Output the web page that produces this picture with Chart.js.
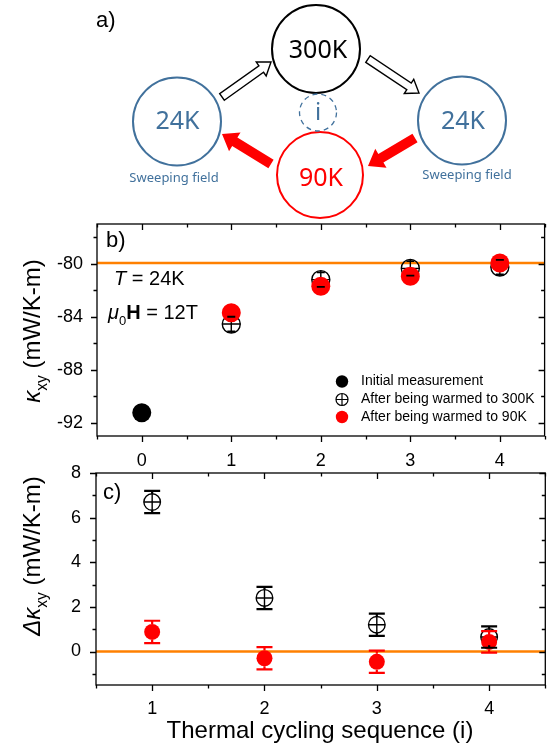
<!DOCTYPE html>
<html>
<head>
<meta charset="utf-8">
<script src="https://cdn.jsdelivr.net/npm/chart.js@4.4.1/dist/chart.umd.min.js"></script>
<style>
html, body { margin: 0; padding: 0; background: #fff; }
#wrap { position: relative; width: 555px; height: 748px; }
#wrap canvas { position: absolute; left: 0; top: 0; }
</style>
</head>
<body>
<div id="wrap">
  <canvas id="chart-b" width="555" height="748"></canvas>
  <canvas id="chart-c" width="555" height="748"></canvas>
</div>
<script>
// ---- data, panel b ----
var seriesNames = ['Initial measurement', 'After being warmed to 300K', 'After being warmed to 90K'];
var bXRange = [-0.5, 4.5];
var bYRange = [-93, -77];
var bXTicks = [0, 1, 2, 3, 4];
var bYTicks = [-92, -88, -84, -80];
var initialX = [0];
var initialVals = [-91.25];
var warm300X = [1, 2, 3, 4];
var warm300Vals = [-84.55, -81.2, -80.35, -80.25];
var warm300Err = [0.55, 0.55, 0.55, 0.55];
var warm90X = [1, 2, 3, 4];
var warm90Vals = [-83.7, -81.7, -80.95, -79.95];
var bRefLine = -79.95;

// ---- data, panel c ----
var cXRange = [0.5, 4.5];
var cYRange = [-1.5, 8];
var cXTicks = [1, 2, 3, 4];
var cYTicks = [0, 2, 4, 6, 8];
var cycleX = [1, 2, 3, 4];
var delta300Vals = [6.7, 2.4, 1.2, 0.65];
var delta300Err = [0.5, 0.5, 0.5, 0.48];
var delta90Vals = [0.88, -0.3, -0.46, 0.43];
var delta90Err = [0.5, 0.5, 0.5, 0.48];
var cRefLine = 0;

var ORANGE = '#FF8000';
var RED = '#FF0000';
var BLUE = '#41719C';
var FONT = "'Liberation Sans', Arial, sans-serif";
var DIAG_FONT = "'Noto Sans', sans-serif";

Chart.defaults.font.family = FONT;
Chart.defaults.color = '#000';

function pts(xs, ys) {
  return xs.map(function (x, i) { return { x: x, y: ys[i] }; });
}

function richWidth(ctx, parts, size) {
  var w = 0;
  parts.forEach(function (p) {
    var s = p.sub ? size * 0.65 : size;
    ctx.font = (p.italic ? 'italic ' : '') + (p.bold ? 'bold ' : '') + s + 'px ' + FONT;
    w += ctx.measureText(p.t).width;
  });
  return w;
}

function drawRich(ctx, parts, x, y, size) {
  var cx = x;
  ctx.textBaseline = 'alphabetic';
  ctx.textAlign = 'left';
  parts.forEach(function (p) {
    var s = p.sub ? size * 0.65 : size;
    ctx.font = (p.italic ? 'italic ' : '') + (p.bold ? 'bold ' : '') + s + 'px ' + FONT;
    ctx.fillText(p.t, cx, y + (p.sub ? size * 0.3 : 0));
    cx += ctx.measureText(p.t).width;
  });
}

function yTitle(ctx, parts, baseX, centerY, size) {
  var w = richWidth(ctx, parts, size);
  ctx.save();
  ctx.translate(baseX, centerY);
  ctx.rotate(-Math.PI / 2);
  ctx.fillStyle = '#000';
  drawRich(ctx, parts, -w / 2, 0, size);
  ctx.restore();
}

function fixTicks(list) {
  return function (scale) { scale.ticks = list.map(function (v) { return { value: v }; }); };
}

var frameTicks = {
  id: 'frameTicks',
  afterDraw: function (chart, args, opts) {
    var ctx = chart.ctx, a = chart.chartArea, x = chart.scales.x, y = chart.scales.y;
    var majX = x.ticks.map(function (t) { return t.value; });
    var majY = y.ticks.map(function (t) { return t.value; });
    var isMaj = function (arr, v) { return arr.some(function (m) { return Math.abs(m - v) < 1e-6; }); };
    ctx.save();
    ctx.strokeStyle = '#000';
    ctx.lineWidth = 1.3;
    ctx.strokeRect(a.left, a.top, a.right - a.left, a.bottom - a.top);
    ctx.beginPath();
    var v, p, len;
    for (v = Math.ceil(x.min / opts.xMinor - 1e-6) * opts.xMinor; v <= x.max + 1e-6; v += opts.xMinor) {
      p = x.getPixelForValue(v);
      len = isMaj(majX, v) ? 6 : 3.5;
      p = Math.round(p) + 0.5;
      ctx.moveTo(p, a.bottom); ctx.lineTo(p, a.bottom + len);
      ctx.moveTo(p, a.top); ctx.lineTo(p, a.top + len);
    }
    for (v = Math.ceil(y.min / opts.yMinor - 1e-6) * opts.yMinor; v <= y.max + 1e-6; v += opts.yMinor) {
      p = y.getPixelForValue(v);
      len = isMaj(majY, v) ? 6 : 3.5;
      p = Math.round(p) + 0.5;
      ctx.moveTo(a.left, p); ctx.lineTo(a.left - len, p);
      ctx.moveTo(a.right, p); ctx.lineTo(a.right - len, p);
    }
    ctx.stroke();
    ctx.restore();
  }
};

// cross inside the open circles (drawn with that dataset), then error bars on top
var errorBars = {
  id: 'errorBars',
  afterDatasetDraw: function (chart, args, opts) {
    var ctx = chart.ctx;
    (opts.bars || []).forEach(function (e) {
      if (e.dataset !== args.index || !e.cross) return;
      ctx.save();
      ctx.strokeStyle = '#000';
      ctx.lineWidth = 1.4;
      args.meta.data.forEach(function (pt) {
        ctx.beginPath();
        ctx.moveTo(pt.x - e.cross, pt.y); ctx.lineTo(pt.x + e.cross, pt.y);
        ctx.moveTo(pt.x, pt.y - e.cross); ctx.lineTo(pt.x, pt.y + e.cross);
        ctx.stroke();
      });
      ctx.restore();
    });
  },
  afterDatasetsDraw: function (chart, args, opts) {
    var ctx = chart.ctx, y = chart.scales.y;
    ctx.save();
    (opts.bars || []).forEach(function (e) {
      var meta = chart.getDatasetMeta(e.dataset);
      var ds = chart.data.datasets[e.dataset];
      ctx.strokeStyle = e.color;
      ctx.lineWidth = e.width;
      meta.data.forEach(function (pt, i) {
        var val = ds.data[i].y, d = e.errs[i];
        var yt = y.getPixelForValue(val + d), yb = y.getPixelForValue(val - d);
        ctx.beginPath();
        if (yt < pt.y - e.gap) { ctx.moveTo(pt.x, yt); ctx.lineTo(pt.x, pt.y - e.gap); }
        if (yb > pt.y + e.gap) { ctx.moveTo(pt.x, pt.y + e.gap); ctx.lineTo(pt.x, yb); }
        ctx.moveTo(pt.x - e.cap, yt); ctx.lineTo(pt.x + e.cap, yt);
        ctx.moveTo(pt.x - e.cap, yb); ctx.lineTo(pt.x + e.cap, yb);
        ctx.stroke();
      });
    });
    ctx.restore();
  }
};

function circle(ctx, x, y, r, color, lw, dash) {
  ctx.save();
  ctx.strokeStyle = color;
  ctx.lineWidth = lw;
  if (dash) ctx.setLineDash(dash);
  ctx.beginPath(); ctx.arc(x, y, r, 0, 2 * Math.PI); ctx.stroke();
  ctx.restore();
}

function centerText(ctx, t, x, y, size, color) {
  ctx.font = size + 'px ' + DIAG_FONT;
  ctx.fillStyle = color;
  ctx.textAlign = 'center';
  ctx.textBaseline = 'middle';
  ctx.fillText(t, x, y);
}

function blockArrow(ctx, x1, y1, x2, y2, sw, hw, hl, fill, stroke) {
  var dx = x2 - x1, dy = y2 - y1, L = Math.hypot(dx, dy);
  var ux = dx / L, uy = dy / L, nx = -uy, ny = ux;
  var bx = x2 - ux * hl, by = y2 - uy * hl;
  ctx.save();
  ctx.beginPath();
  ctx.moveTo(x1 + nx * sw / 2, y1 + ny * sw / 2);
  ctx.lineTo(bx + nx * sw / 2, by + ny * sw / 2);
  ctx.lineTo(bx + nx * hw / 2, by + ny * hw / 2);
  ctx.lineTo(x2, y2);
  ctx.lineTo(bx - nx * hw / 2, by - ny * hw / 2);
  ctx.lineTo(bx - nx * sw / 2, by - ny * sw / 2);
  ctx.lineTo(x1 - nx * sw / 2, y1 - ny * sw / 2);
  ctx.closePath();
  ctx.fillStyle = fill;
  ctx.fill();
  if (stroke) { ctx.strokeStyle = stroke; ctx.lineWidth = 1.4; ctx.stroke(); }
  ctx.restore();
}

function drawDiagram(ctx) {
  ctx.save();
  ctx.fillStyle = '#000';
  ctx.font = '22px ' + FONT;
  ctx.textAlign = 'left';
  ctx.textBaseline = 'alphabetic';
  ctx.fillText('a)', 96, 27);

  circle(ctx, 316, 49, 44, '#000', 2);
  circle(ctx, 177, 121.5, 44, BLUE, 2);
  circle(ctx, 462, 120.5, 44, BLUE, 2);
  circle(ctx, 320, 175, 43, RED, 2);
  circle(ctx, 318, 112.5, 18.5, BLUE, 1.3, [5, 4]);

  centerText(ctx, '300K', 318, 51, 25, '#000');
  centerText(ctx, '24K', 177.5, 122, 25, BLUE);
  centerText(ctx, '24K', 463, 122, 25, BLUE);
  centerText(ctx, '90K', 321, 179, 25, RED);
  centerText(ctx, 'i', 318, 113, 24, BLUE);
  centerText(ctx, 'Sweeping field', 174, 178, 13, BLUE);
  centerText(ctx, 'Sweeping field', 467, 175, 13, BLUE);

  blockArrow(ctx, 222, 97, 271, 62, 8, 17, 12, '#fff', '#000');
  blockArrow(ctx, 368, 59, 419, 93, 8, 17, 12, '#fff', '#000');
  blockArrow(ctx, 415, 138, 368, 166, 10, 22, 15, RED);
  blockArrow(ctx, 271, 164, 222, 134, 10, 22, 15, RED);
  ctx.restore();
}

var panelB = {
  id: 'panelB',
  afterDraw: function (chart) {
    var ctx = chart.ctx;
    drawDiagram(ctx);
    ctx.save();
    ctx.fillStyle = '#000';
    ctx.font = '22px ' + FONT;
    ctx.textAlign = 'left';
    ctx.textBaseline = 'alphabetic';
    ctx.fillText('b)', 106, 247);
    drawRich(ctx, [{ t: 'T', italic: true }, { t: ' = 24K' }], 114, 285, 20);
    drawRich(ctx, [{ t: '\u03bc', italic: true }, { t: '0', sub: true }, { t: 'H', bold: true }, { t: ' = 12T' }], 108, 319, 20);

    // legend
    var rows = [381.5, 399.5, 417];
    var lx = 342;
    ctx.fillStyle = '#000';
    ctx.beginPath(); ctx.arc(lx, rows[0], 6.2, 0, 2 * Math.PI); ctx.fill();
    ctx.strokeStyle = '#000';
    ctx.lineWidth = 1.2;
    ctx.beginPath(); ctx.arc(lx, rows[1], 6, 0, 2 * Math.PI);
    ctx.moveTo(lx - 6, rows[1]); ctx.lineTo(lx + 6, rows[1]);
    ctx.moveTo(lx, rows[1] - 6); ctx.lineTo(lx, rows[1] + 6);
    ctx.stroke();
    ctx.fillStyle = RED;
    ctx.beginPath(); ctx.arc(lx, rows[2], 6.2, 0, 2 * Math.PI); ctx.fill();
    ctx.fillStyle = '#000';
    ctx.font = '14px ' + FONT;
    ctx.textBaseline = 'middle';
    seriesNames.forEach(function (n, i) { ctx.fillText(n, 361, rows[i]); });

    yTitle(ctx, [{ t: '\u03ba', italic: true }, { t: 'xy', sub: true }, { t: ' (mW/K-m)' }], 40, 331, 24);
    ctx.restore();
  }
};

var panelC = {
  id: 'panelC',
  afterDraw: function (chart) {
    var ctx = chart.ctx;
    ctx.save();
    ctx.fillStyle = '#000';
    ctx.font = '22px ' + FONT;
    ctx.textAlign = 'left';
    ctx.textBaseline = 'alphabetic';
    ctx.fillText('c)', 103, 499);
    yTitle(ctx, [{ t: '\u0394\u03ba', italic: true }, { t: 'xy', sub: true }, { t: ' (mW/K-m)' }], 40, 556, 24);
    ctx.font = '24px ' + FONT;
    ctx.textAlign = 'center';
    ctx.fillText('Thermal cycling sequence (i)', 320, 738);
    ctx.restore();
  }
};

function axisX(range, ticks, pad, h) {
  return {
    type: 'linear', min: range[0], max: range[1],
    grid: { display: false, drawTicks: false }, border: { display: false },
    ticks: { padding: pad, font: { size: 18 }, color: '#000', callback: function (v) { return String(v); } },
    afterBuildTicks: fixTicks(ticks),
    afterFit: function (s) { s.height = h; }
  };
}
function axisY(range, ticks, pad, w) {
  return {
    type: 'linear', min: range[0], max: range[1],
    grid: { display: false, drawTicks: false }, border: { display: false },
    ticks: { padding: pad, font: { size: 18 }, color: '#000', callback: function (v) { return String(v); } },
    afterBuildTicks: fixTicks(ticks),
    afterFit: function (s) { s.width = w; }
  };
}

new Chart(document.getElementById('chart-b').getContext('2d'), {
  type: 'scatter',
  data: {
    datasets: [
      { label: seriesNames[2], data: pts(warm90X, warm90Vals), order: 1,
        pointStyle: 'circle', pointRadius: 9.5, backgroundColor: RED, borderWidth: 0 },
      { label: seriesNames[1], data: pts(warm300X, warm300Vals), order: 2,
        pointStyle: 'circle', pointRadius: 9, backgroundColor: 'rgba(0,0,0,0)', borderColor: '#000', borderWidth: 1.4 },
      { label: seriesNames[0], data: pts(initialX, initialVals), order: 3,
        pointStyle: 'circle', pointRadius: 9.5, backgroundColor: '#000', borderWidth: 0 },
      { label: 'ref', data: pts(bXRange, [bRefLine, bRefLine]), order: 4, showLine: true,
        borderColor: ORANGE, borderWidth: 2.5, pointRadius: 0 }
    ]
  },
  options: {
    responsive: false, animation: false,
    layout: { padding: { top: 224, right: 5, left: 0, bottom: 0 } },
    plugins: {
      legend: { display: false }, tooltip: { enabled: false },
      frameTicks: { xMinor: 0.5, yMinor: 2 },
      errorBars: { bars: [{ dataset: 1, errs: warm300Err, color: '#000', width: 1.8, cap: 4, gap: 100, cross: 9 }] }
    },
    scales: { x: axisX(bXRange, bXTicks, 14, 312), y: axisY(bYRange, bYTicks, 14, 97) }
  },
  plugins: [frameTicks, errorBars, panelB]
});

new Chart(document.getElementById('chart-c').getContext('2d'), {
  type: 'scatter',
  data: {
    datasets: [
      { label: seriesNames[2], data: pts(cycleX, delta90Vals), order: 1,
        pointStyle: 'circle', pointRadius: 8, backgroundColor: RED, borderWidth: 0 },
      { label: seriesNames[1], data: pts(cycleX, delta300Vals), order: 2,
        pointStyle: 'circle', pointRadius: 8.3, backgroundColor: 'rgba(0,0,0,0)', borderColor: '#000', borderWidth: 1.4 },
      { label: 'ref', data: pts(cXRange, [cRefLine, cRefLine]), order: 4, showLine: true,
        borderColor: ORANGE, borderWidth: 2.5, pointRadius: 0 }
    ]
  },
  options: {
    responsive: false, animation: false,
    layout: { padding: { top: 473, right: 5, left: 0, bottom: 0 } },
    plugins: {
      legend: { display: false }, tooltip: { enabled: false },
      frameTicks: { xMinor: 0.5, yMinor: 1 },
      errorBars: { bars: [
        { dataset: 1, errs: delta300Err, color: '#000', width: 2.2, cap: 8, gap: 8.3, cross: 8.3 },
        { dataset: 0, errs: delta90Err, color: RED, width: 2.2, cap: 8, gap: 8 }
      ] }
    },
    scales: { x: axisX(cXRange, cXTicks, 13, 63), y: axisY(cYRange, cYTicks, 15, 96) }
  },
  plugins: [frameTicks, errorBars, panelC]
});
</script>
</body>
</html>
